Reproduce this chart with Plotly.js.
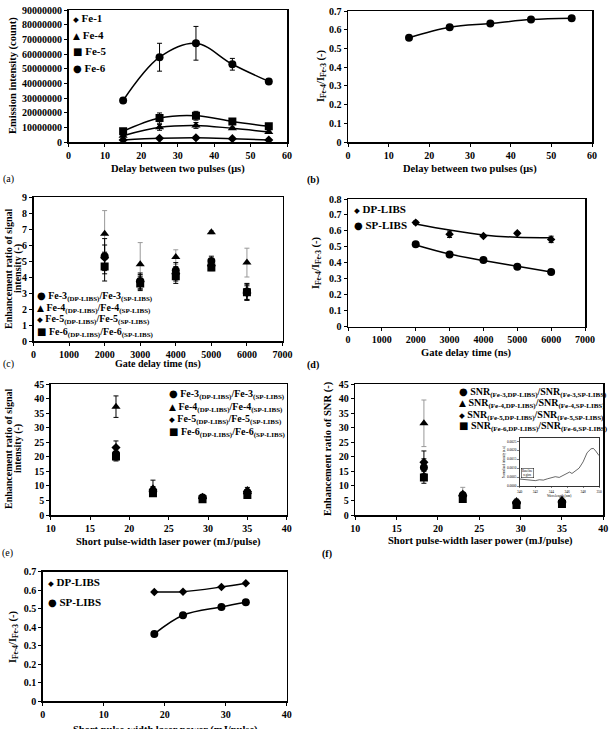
<!DOCTYPE html>
<html><head><meta charset="utf-8">
<script src="https://cdn.plot.ly/plotly-3.0.1.min.js"></script>
<style>html,body{margin:0;padding:0;background:#fff}#chart{width:609px;height:729px}</style>
</head><body><div id="chart"></div>
<script>
// ---------- DATA ----------
// (a) emission intensity vs delay between two pulses
const delayA = [15, 25, 35, 45, 55];
const namesA = ['Fe-1', 'Fe-4', 'Fe-5', 'Fe-6'];
const fe1A = [1400000, 2500000, 2900000, 2300000, 1400000];
const fe1AErr = [300000, 600000, 800000, 500000, 300000];
const fe4A = [4300000, 10000000, 11300000, 9300000, 6800000];
const fe4AErr = [500000, 2000000, 2000000, 800000, 600000];
const fe5A = [7300000, 16300000, 17900000, 14000000, 10700000];
const fe5AErr = [800000, 3500000, 3000000, 1000000, 800000];
const fe6A = [28300000, 57800000, 67300000, 53000000, 41300000];
const fe6AErr = [1500000, 9500000, 11500000, 4000000, 1500000];
// (b) intensity ratio vs delay
const delayB = [15, 25, 35, 45, 55];
const ratioB = [0.557, 0.613, 0.633, 0.654, 0.661];
// (c) enhancement ratio vs gate delay
const gateC = [2000, 3000, 4000, 5000, 6000];
const namesC = ['Fe-3<sub>(DP-LIBS)</sub>/Fe-3<sub>(SP-LIBS)</sub>', 'Fe-4<sub>(DP-LIBS)</sub>/Fe-4<sub>(SP-LIBS)</sub>',
                'Fe-5<sub>(DP-LIBS)</sub>/Fe-5<sub>(SP-LIBS)</sub>', 'Fe-6<sub>(DP-LIBS)</sub>/Fe-6<sub>(SP-LIBS)</sub>'];
const fe3C = [5.3, 3.75, 4.4, 5.0, 3.1];
const fe3CErr = [1.1, 0.5, 0.5, 0.3, 0.5];
const fe4C = [6.7, 4.8, 5.25, 6.8, 4.9];
const fe4CErr = [1.45, 1.35, 0.45, 0.1, 0.9];
const fe5C = [5.2, 3.7, 4.2, 4.7, 3.0];
const fe5CErr = [0.8, 0.45, 0.45, 0.25, 0.45];
const fe6C = [4.65, 3.6, 4.05, 4.6, 3.05];
const fe6CErr = [0.9, 0.45, 0.45, 0.2, 0.5];
// (d) intensity ratio vs gate delay
const gateD = [2000, 3000, 4000, 5000, 6000];
const namesD = ['DP-LIBS', 'SP-LIBS'];
const dpD = [0.652, 0.579, 0.568, 0.585, 0.547];
const dpDErr = [0.01, 0.02, 0.008, 0.008, 0.02];
const spD = [0.516, 0.453, 0.418, 0.376, 0.343];
const spDErr = [0.008, 0.008, 0.008, 0.006, 0.006];
const dpDTrend = [0.644, 0.606, 0.575, 0.560, 0.558];
const spDTrend = [0.512, 0.455, 0.415, 0.378, 0.342];
// (e) enhancement ratio vs laser power
const powerE = [18.3, 23, 29.3, 35];
const fe3E = [21, 8.3, 6.0, 7.8];
const fe3EErr = [2, 1.5, 0.7, 0.8];
const fe4E = [37.3, 9.2, 6.3, 8.6];
const fe4EErr = [3.7, 2.8, 0.7, 0.9];
const fe5E = [23.2, 8.0, 5.8, 7.4];
const fe5EErr = [2.3, 1.2, 0.6, 0.7];
const fe6E = [20.1, 7.5, 5.4, 6.9];
const fe6EErr = [1.5, 1.0, 0.5, 0.6];
// (f) SNR enhancement vs laser power
const powerF = [18.3, 23, 29.5, 35];
const namesF = ['SNR<sub>(Fe-3,DP-LIBS)</sub>/SNR<sub>(Fe-3,SP-LIBS)</sub>', 'SNR<sub>(Fe-4,DP-LIBS)</sub>/SNR<sub>(Fe-4,SP-LIBS)</sub>',
                'SNR<sub>(Fe-5,DP-LIBS)</sub>/SNR<sub>(Fe-5,SP-LIBS)</sub>', 'SNR<sub>(Fe-6,DP-LIBS)</sub>/SNR<sub>(Fe-6,SP-LIBS)</sub>'];
const snr3F = [16.3, 6.8, 4.2, 4.5];
const snr3FErr = [3, 1, 0.5, 0.6];
const snr4F = [31.5, 7.4, 4.8, 5.2];
const snr4FErr = [8, 2.1, 0.8, 0.9];
const snr5F = [18.1, 6.5, 4.0, 4.2];
const snr5FErr = [3.9, 1, 0.5, 0.6];
const snr6F = [12.9, 5.5, 3.4, 3.8];
const snr6FErr = [2, 0.8, 0.4, 0.5];
// (f) inset spectrum
const waveInset = [340, 340.5, 341, 341.5, 342, 342.5, 343, 343.5, 344, 344.5, 345, 345.5, 346, 346.3, 346.6, 347, 347.5, 348, 348.5, 349, 349.3, 349.6, 350];
const specInset = [0.00039, 0.00036, 0.00033, 0.00031, 0.00030, 0.00035, 0.00033, 0.00040, 0.00045, 0.00052, 0.00048, 0.00060, 0.00072, 0.00078, 0.00070, 0.00082, 0.00100, 0.00135, 0.00186, 0.00208, 0.00210, 0.00195, 0.00170];
// (g) intensity ratio vs laser power
const powerG = [18.3, 23, 29.3, 33.3];
const dpG = [0.590, 0.592, 0.617, 0.637];
const spG = [0.363, 0.464, 0.509, 0.534];

// ---------- HELPERS ----------
const W = 609, H = 729;
const px = x => x / W;
const py = y => 1 - y / H;
const FONT = '"Liberation Serif", "Times New Roman", serif';
const GLYPH = {
  circle: '<span style="font-family:\'DejaVu Sans\';font-size:10px">●</span>',
  'triangle-up': '<span style="font-family:\'DejaVu Sans\';font-size:9px">▲</span>',
  diamond: '<span style="font-family:\'DejaVu Sans\';font-size:7.5px">◆</span>',
  square: '<span style="font-family:\'DejaVu Sans\';font-size:10px">■</span>'
};

function axis(d0, d1, range, dtick, anchor, extra) {
  return Object.assign({
    domain: [d0, d1], range: range, dtick: dtick, anchor: anchor,
    showline: true, mirror: true, linecolor: 'black', linewidth: 1.5,
    ticks: 'outside', ticklen: 3, tickwidth: 1, tickcolor: 'black',
    showgrid: false, zeroline: false, fixedrange: true,
    tickfont: {family: FONT, size: 10, color: 'black', weight: 700}
  }, extra || {});
}
const traces = [];
function pts(x, y, err, sym, size, xa, ya, name, errColor) {
  const t = {x: x, y: y, mode: 'markers', type: 'scatter', xaxis: xa, yaxis: ya, name: name, showlegend: false,
    marker: {symbol: sym, size: size, color: 'black'}};
  if (err) t.error_y = {type: 'data', array: err, visible: true, color: errColor || 'black', thickness: 1, width: 2.5};
  traces.push(t);
}
function curve(x, y, xa, ya) {
  traces.push({x: x, y: y, mode: 'lines', type: 'scatter', xaxis: xa, yaxis: ya, showlegend: false, hoverinfo: 'skip',
    line: {color: 'black', width: 1.5, shape: 'spline', smoothing: 1}});
}

// (a)
curve(delayA, fe1A, 'x', 'y'); curve(delayA, fe4A, 'x', 'y'); curve(delayA, fe5A, 'x', 'y'); curve(delayA, fe6A, 'x', 'y');
pts(delayA, fe1A, fe1AErr, 'diamond', 7, 'x', 'y', namesA[0]);
pts(delayA, fe4A, fe4AErr, 'triangle-up', 8, 'x', 'y', namesA[1]);
pts(delayA, fe5A, fe5AErr, 'square', 8, 'x', 'y', namesA[2]);
pts(delayA, fe6A, fe6AErr, 'circle', 8, 'x', 'y', namesA[3]);
// (b)
curve(delayB, ratioB, 'x2', 'y2');
pts(delayB, ratioB, null, 'circle', 8, 'x2', 'y2', 'ratio');
// (c)
pts(gateC, fe4C, fe4CErr, 'triangle-up', 8, 'x3', 'y3', namesC[1], '#999');
pts(gateC, fe3C, fe3CErr, 'circle', 8, 'x3', 'y3', namesC[0]);
pts(gateC, fe5C, fe5CErr, 'diamond', 7, 'x3', 'y3', namesC[2]);
pts(gateC, fe6C, fe6CErr, 'square', 8, 'x3', 'y3', namesC[3]);
// (d)
curve(gateD, dpDTrend, 'x4', 'y4'); curve(gateD, spDTrend, 'x4', 'y4');
pts(gateD, dpD, dpDErr, 'diamond', 6.5, 'x4', 'y4', namesD[0]);
pts(gateD, spD, spDErr, 'circle', 8, 'x4', 'y4', namesD[1]);
// (e)
pts(powerE, fe4E, fe4EErr, 'triangle-up', 8, 'x5', 'y5', namesC[1]);
pts(powerE, fe3E, fe3EErr, 'circle', 8, 'x5', 'y5', namesC[0]);
pts(powerE, fe5E, fe5EErr, 'diamond', 7, 'x5', 'y5', namesC[2]);
pts(powerE, fe6E, fe6EErr, 'square', 8, 'x5', 'y5', namesC[3]);
// (f)
pts(powerF, snr4F, snr4FErr, 'triangle-up', 8, 'x6', 'y6', namesF[1], '#999');
pts(powerF, snr3F, snr3FErr, 'circle', 8, 'x6', 'y6', namesF[0]);
pts(powerF, snr5F, snr5FErr, 'diamond', 7, 'x6', 'y6', namesF[2]);
pts(powerF, snr6F, snr6FErr, 'square', 8, 'x6', 'y6', namesF[3]);
traces.push({x: waveInset, y: specInset, mode: 'lines', type: 'scatter', xaxis: 'x8', yaxis: 'y8', showlegend: false,
  line: {color: 'black', width: 0.6}});
// (g)
curve(powerG, dpG, 'x7', 'y7'); curve(powerG, spG, 'x7', 'y7');
pts(powerG, dpG, null, 'diamond', 6.5, 'x7', 'y7', namesD[0]);
pts(powerG, spG, null, 'circle', 8, 'x7', 'y7', namesD[1]);

// ---------- LAYOUT ----------
const ratioTitle = 'I<sub>Fe-4</sub>/I<sub>Fe-3</sub> (-)';
const layout = {
  width: W, height: H, margin: {l: 0, r: 0, t: 0, b: 0},
  paper_bgcolor: 'white', plot_bgcolor: 'white', showlegend: false,
  font: {family: FONT, color: 'black'},
  xaxis: axis(px(68.5), px(287), [0, 60], 10, 'y'),
  yaxis: axis(py(142), py(10), [0, 90000000], 10000000, 'x', {tickformat: 'd'}),
  xaxis2: axis(px(348), px(592), [0, 60], 10, 'y2'),
  yaxis2: axis(py(142), py(11), [0, 0.7], 0.1, 'x2'),
  xaxis3: axis(px(33.5), px(282.5), [0, 7000], 1000, 'y3'),
  yaxis3: axis(py(341), py(197), [0, 9], 1, 'x3'),
  xaxis4: axis(px(348), px(585), [0, 7000], 1000, 'y4'),
  yaxis4: axis(py(326.7), py(199), [0, 0.8], 0.1, 'x4'),
  xaxis5: axis(px(50.7), px(286.7), [10, 40], 5, 'y5'),
  yaxis5: axis(py(515), py(384.3), [0, 45], 5, 'x5'),
  xaxis6: axis(px(355.3), px(603.3), [10, 40], 5, 'y6'),
  yaxis6: axis(py(515), py(384), [0, 45], 5, 'x6'),
  xaxis7: axis(px(42.7), px(286.7), [0, 40], 10, 'y7'),
  yaxis7: axis(py(701), py(571.7), [0, 0.7], 0.1, 'x7'),
  xaxis8: axis(px(519.5), px(599), [340, 350], 2, 'y8', {linewidth: 0.8, ticklen: 1.5, tickwidth: 0.5,
    tickfont: {family: FONT, size: 3.5, color: 'black'},
    title: {text: 'Wavelength (nm)', font: {family: FONT, size: 3.5}, standoff: 1}}),
  yaxis8: axis(py(486), py(437.7), [0, 0.0027], 0.0005, 'x8', {linewidth: 0.8, ticklen: 1.5, tickwidth: 0.5,
    tickformat: '.4f', tickfont: {family: FONT, size: 3.5, color: 'black'},
    title: {text: 'Normalized intensity (a.u.)', font: {family: FONT, size: 3}, standoff: 1}}),
  annotations: []
};

function txt(text, x, y, opts) {
  layout.annotations.push(Object.assign({
    text: text, xref: 'paper', yref: 'paper', x: px(x), y: py(y), showarrow: false,
    xanchor: 'center', yanchor: 'middle', font: {family: FONT, size: 10.5, color: 'black', weight: 700}
  }, opts || {}));
}
const small = {family: FONT, size: 10, color: 'black', weight: 700};
// axis titles
txt('Delay between two pulses (μs)', 178, 169);
txt('Delay between two pulses (μs)', 470, 169);
txt('Gate delay time (ns)', 158, 364, {font: small});
txt('Gate delay time (ns)', 467, 353);
txt('Short pulse-width laser power (mJ/pulse)', 168, 542);
txt('Short pulse-width laser power (mJ/pulse)', 480, 541);
txt('Short pulse-width laser power (mJ/pulse)', 165, 722, {yanchor: 'top'});
txt('Emission intensity (count)', 13, 76, {textangle: -90});
txt(ratioTitle, 321, 76, {textangle: -90});
txt('Enhancement ratio of signal', 8, 269, {textangle: -90, font: small});
txt('intensity (-)', 18, 269, {textangle: -90, font: small});
txt(ratioTitle, 317, 263, {textangle: -90});
txt('Enhancement ratio of signal', 8, 449, {textangle: -90, font: small});
txt('intensity (-)', 18, 449, {textangle: -90, font: small});
txt('Enhancement ratio of SNR (-)', 328, 449, {textangle: -90});
txt(ratioTitle, 13, 637, {textangle: -90});
// panel labels
txt('(a)', 8, 179, {font: {family: FONT, size: 10, color: 'black'}});
txt('(b)', 313, 180, {font: {family: FONT, size: 10, color: 'black', weight: 700}});
txt('(c)', 8, 364, {font: {family: FONT, size: 10, color: 'black'}});
txt('(d)', 313, 365, {font: {family: FONT, size: 10, color: 'black', weight: 700}});
txt('(e)', 7, 553, {font: {family: FONT, size: 10, color: 'black'}});
txt('(f)', 327, 554, {font: {family: FONT, size: 10, color: 'black', weight: 700}});

// legends (symbol + series name)
function legend(names, syms, xLeft, rows, size, anchor) {
  names.forEach((n, i) => {
    layout.annotations.push({
      text: GLYPH[syms[i]] + ' ' + n, xref: 'paper', yref: 'paper', x: px(xLeft), y: py(rows[i]),
      showarrow: false, xanchor: anchor || 'left', yanchor: 'middle',
      font: {family: FONT, size: size, color: 'black', weight: 700}
    });
  });
}
legend(namesA, ['diamond', 'triangle-up', 'square', 'circle'], 71, [18, 35, 51.5, 68], 11);
legend(namesC, ['circle', 'triangle-up', 'diamond', 'square'], 35, [296, 308, 320, 332], 10);
legend(namesD, ['diamond', 'circle'], 352, [208.7, 224.7], 11);
legend(namesC, ['circle', 'triangle-up', 'diamond', 'square'], 167, [394.5, 407, 419.5, 432], 10);
legend(namesF, ['circle', 'triangle-up', 'diamond', 'square'], 457, [392.3, 403.8, 415.3, 426.8], 10);
legend(namesD, ['diamond', 'circle'], 46, [582.3, 602.3], 11);
// inset small box label
layout.annotations.push({text: 'Baseline<br>region', xref: 'x8', yref: 'y8', x: 340.15, y: 0.00045, showarrow: false,
  xanchor: 'left', yanchor: 'bottom', bordercolor: 'black', borderwidth: 0.5, borderpad: 0.5,
  font: {family: FONT, size: 3, color: 'black'}});

Plotly.newPlot('chart', traces, layout, {staticPlot: true, displayModeBar: false});
</script></body></html>
